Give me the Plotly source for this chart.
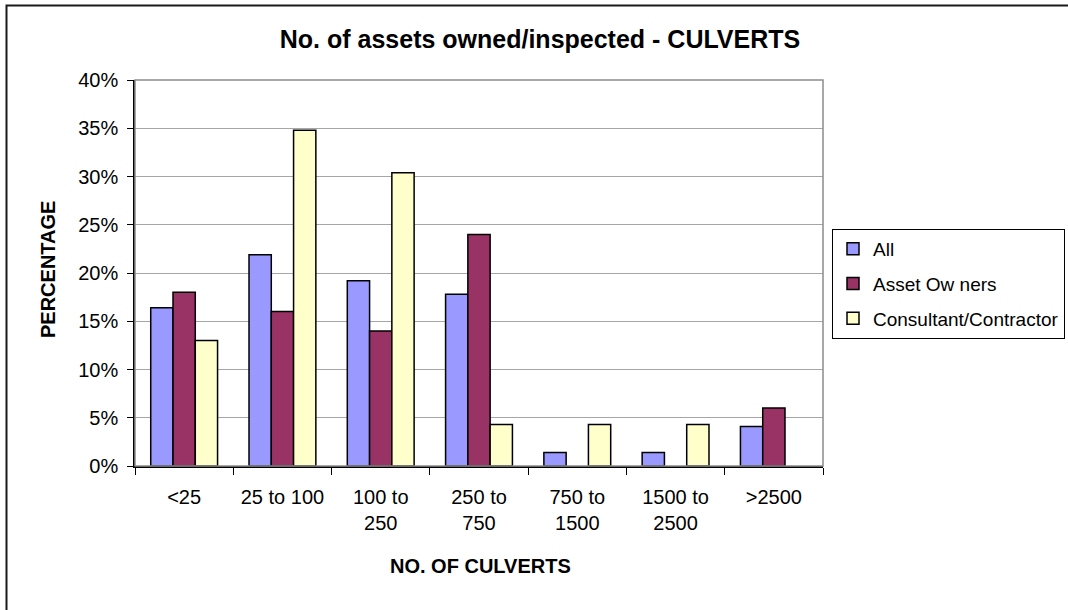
import plotly.graph_objects as go

categories = ["<25", "25 to 100", "100 to 250", "250 to 750", "750 to 1500", "1500 to 2500", ">2500"]
tick_labels = ["<25", "25 to 100", "100 to<br>250", "250 to<br>750", "750 to<br>1500", "1500 to<br>2500", ">2500"]
all_vals = [0.164, 0.219, 0.192, 0.178, 0.014, 0.014, 0.041]
owners_vals = [0.18, 0.16, 0.14, 0.24, 0.0, 0.0, 0.06]
consult_vals = [0.130, 0.348, 0.304, 0.043, 0.043, 0.043, 0.0]
y_ticks = [0, 0.05, 0.10, 0.15, 0.20, 0.25, 0.30, 0.35, 0.40]

FONT = "Arial, 'Liberation Sans', sans-serif"

series = [
    ("All", all_vals, "#9999FF"),
    ("Asset Ow ners", owners_vals, "#993366"),
    ("Consultant/Contractor", consult_vals, "#FFFFCC"),
]

fig = go.Figure()
for i, (name, vals, col) in enumerate(series):
    fig.add_trace(go.Bar(
        x=categories, y=vals, name=name, legendgroup=f"g{i}",
        marker=dict(color=col,
                    line=dict(color="#000000",
                              width=[1.5 if v > 0 else 0 for v in vals])),
    ))

W, H = 1068, 610
L, R, T, B = 135, 245, 80, 144
pw, ph = W - L - R, H - T - B

def px_x(p):
    return (p - L) / pw

def px_y(p):
    return (H - B - p) / ph

fig.update_layout(
    width=W, height=H,
    margin=dict(l=L, r=R, t=T, b=B, autoexpand=False),
    paper_bgcolor="white", plot_bgcolor="white",
    barmode="group", bargap=0.32, bargroupgap=0,
    font=dict(family=FONT, size=20, color="black"),
    title=dict(text="<b>No. of assets owned/inspected - CULVERTS</b>",
               x=540 / W, xref="container", xanchor="center",
               y=1 - 39 / H, yref="container", yanchor="middle",
               font=dict(family=FONT, size=25, color="black")),
    showlegend=True,
    legend=dict(
        x=px_x(832), xanchor="left", y=px_y(229), yanchor="top",
        bordercolor="black", borderwidth=1, bgcolor="white",
        font=dict(family=FONT, size=19, color="black"),
        tracegroupgap=7, itemwidth=30,
    ),
    xaxis=dict(
        tickmode="array", tickvals=categories, ticktext=tick_labels,
        tickson="boundaries", ticks="outside", ticklen=7, tickcolor="black",
        ticklabelstandoff=12,
        showline=True, linecolor="black", linewidth=1.5,
        showgrid=False, tickfont=dict(family=FONT, size=20, color="black"),
        title=None,
    ),
    yaxis=dict(
        range=[0, 0.4], tickvals=y_ticks, tickformat=".0%",
        ticks="outside", ticklen=6, tickcolor="black",
        ticklabelstandoff=5,
        showline=True, linecolor="black", linewidth=1.5,
        showgrid=True, gridcolor="#A6A6A6", gridwidth=1,
        zeroline=False, tickfont=dict(family=FONT, size=20, color="black"),
        title=None,
    ),
    shapes=[
        # plot area border (grey)
        dict(type="rect", xref="paper", yref="paper", x0=0, x1=1, y0=0, y1=1,
             line=dict(color="#8C8C8C", width=1.5), layer="above"),
        # outer chart border
        dict(type="rect", xref="paper", yref="paper",
             x0=px_x(6.5), x1=px_x(1080), y0=px_y(625), y1=px_y(5.5),
             line=dict(color="#1a1a1a", width=2), layer="below"),
    ],
    annotations=[
        dict(text="<b>PERCENTAGE</b>", xref="paper", yref="paper",
             x=px_x(48), y=px_y(270), textangle=-90, showarrow=False,
             xanchor="center", yanchor="middle",
             font=dict(family=FONT, size=20, color="black")),
        dict(text="<b>NO. OF CULVERTS</b>", xref="paper", yref="paper",
             x=px_x(480), y=px_y(566), showarrow=False,
             xanchor="center", yanchor="middle",
             font=dict(family=FONT, size=20, color="black")),
    ],
)

fig.write_html("out.html",
               config={"displayModeBar": False},
               post_script="document.body.style.margin='0';document.body.style.padding='0';")
